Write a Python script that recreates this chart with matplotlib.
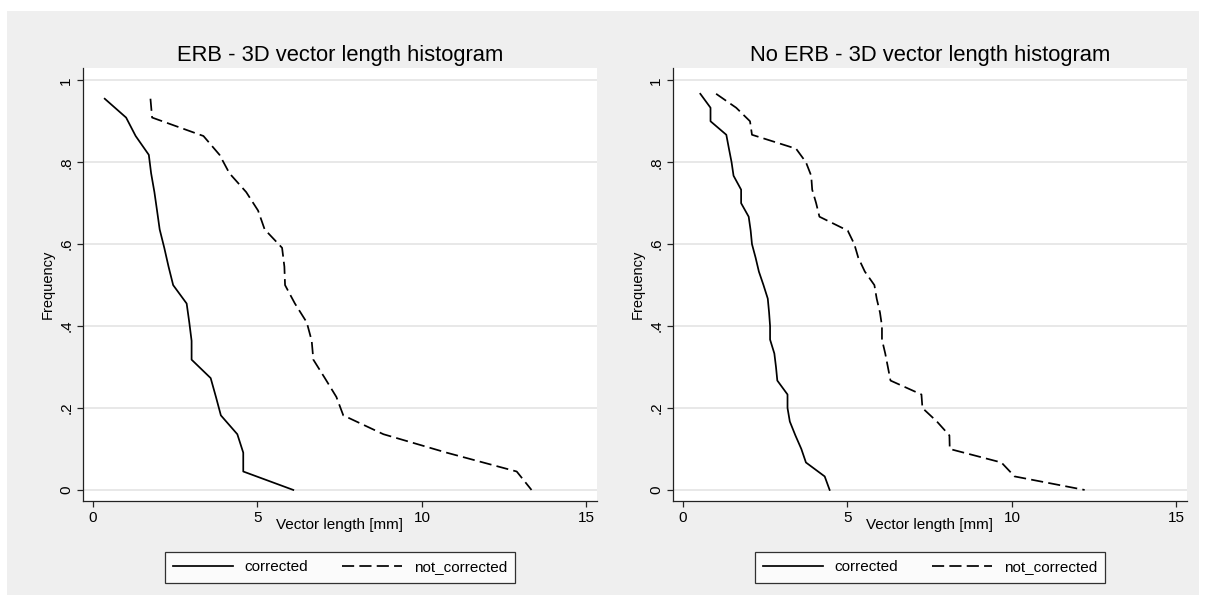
import matplotlib
matplotlib.use('Agg')
import matplotlib.pyplot as plt
from matplotlib.patches import Rectangle

plt.rcParams['font.family'] = ['Liberation Sans', 'DejaVu Sans']

# ERB group, 22 measurements
freq_erb = [0.955, 0.909, 0.864, 0.818, 0.773, 0.727, 0.682, 0.636, 0.591, 0.545, 0.5,
            0.455, 0.409, 0.364, 0.318, 0.273, 0.227, 0.182, 0.136, 0.091, 0.045, 0.0]
erb_corrected = [0.36, 1.01, 1.30, 1.70, 1.77, 1.87, 1.95, 2.03, 2.17, 2.30, 2.44,
                 2.85, 2.93, 3.00, 3.00, 3.58, 3.74, 3.89, 4.39, 4.57, 4.57, 6.09]
erb_not_corrected = [1.75, 1.80, 3.36, 3.85, 4.15, 4.66, 5.02, 5.22, 5.75, 5.82, 5.84,
                     6.14, 6.50, 6.65, 6.70, 7.05, 7.40, 7.61, 8.83, 10.75, 12.88, 13.33]

# no ERB group, 30 measurements
freq_noerb = [0.967, 0.933, 0.9, 0.867, 0.833, 0.8, 0.767, 0.733, 0.7, 0.667,
              0.633, 0.6, 0.567, 0.533, 0.5, 0.467, 0.433, 0.4, 0.367, 0.333,
              0.3, 0.267, 0.233, 0.2, 0.167, 0.133, 0.1, 0.067, 0.033, 0.0]
noerb_corrected = [0.53, 0.84, 0.84, 1.32, 1.40, 1.48, 1.54, 1.77, 1.77, 2.00,
                   2.06, 2.10, 2.21, 2.31, 2.45, 2.58, 2.62, 2.65, 2.65, 2.78,
                   2.83, 2.87, 3.18, 3.18, 3.25, 3.42, 3.60, 3.74, 4.31, 4.46]
noerb_not_corrected = [1.01, 1.62, 2.04, 2.10, 3.44, 3.74, 3.90, 3.93, 4.05, 4.15,
                       5.01, 5.21, 5.33, 5.53, 5.82, 5.89, 5.99, 6.05, 6.05, 6.15,
                       6.23, 6.31, 7.25, 7.28, 7.72, 8.10, 8.11, 9.68, 10.08, 12.21]

titles = ['ERB - 3D vector length histogram', 'No ERB - 3D vector length histogram']
xticks = [0, 5, 10, 15]
yticks = [0, 0.2, 0.4, 0.6, 0.8, 1]
ytick_labels = ['0', '.2', '.4', '.6', '.8', '1']

W, H = 1206, 606
fig = plt.figure(figsize=(W / 100, H / 100), dpi=100, facecolor='white')
fig.patches.append(Rectangle((7 / W, 1 - 595 / H), 1192 / W, 584 / H,
                             transform=fig.transFigure, facecolor='#efefef',
                             edgecolor='none', zorder=-10))

panels = [
    (83, freq_erb, erb_corrected, erb_not_corrected),
    (673, freq_noerb, noerb_corrected, noerb_not_corrected),
]

for i, (left, freq, corr, notcorr) in enumerate(panels):
    ax = fig.add_axes([left / W, 1 - 501 / H, 514 / W, 433 / H])
    ax.set_facecolor('white')
    ax.plot(corr, freq, color='black', lw=1.25, label='corrected')
    ax.plot(notcorr, freq, color='black', lw=1.25, dashes=(7, 3), label='not_corrected')

    ax.set_xlim(-0.3, 15.32)
    ax.set_ylim(-0.027, 1.03)
    ax.set_xticks(xticks)
    ax.set_yticks(yticks)
    ax.set_yticklabels(ytick_labels, rotation=90, va='center')
    ax.tick_params(direction='out', length=4, width=0.9, color='#222222',
                   labelsize=11, pad=3)
    ax.grid(axis='y', color='#e6e6e6', lw=1.3)
    ax.set_axisbelow(True)
    for side in ['top', 'right']:
        ax.spines[side].set_visible(False)
    for side in ['left', 'bottom']:
        ax.spines[side].set_color('#222222')
        ax.spines[side].set_linewidth(0.9)

    ax.set_title(titles[i], fontsize=15.8, pad=5)
    ax.set_xlabel('Vector length [mm]', fontsize=11, labelpad=-5)
    ax.set_ylabel('Frequency', fontsize=10.5, labelpad=3)

    leg = ax.legend(loc='upper center', bbox_to_anchor=(0.5, -0.1), ncol=2,
                    fontsize=11, frameon=True, fancybox=False, handlelength=3.9,
                    handletextpad=0.8, columnspacing=2.2, borderpad=0.55)
    leg.get_frame().set_edgecolor('black')
    leg.get_frame().set_linewidth(0.9)

plt.savefig('out.png', dpi=100, facecolor=fig.get_facecolor())
